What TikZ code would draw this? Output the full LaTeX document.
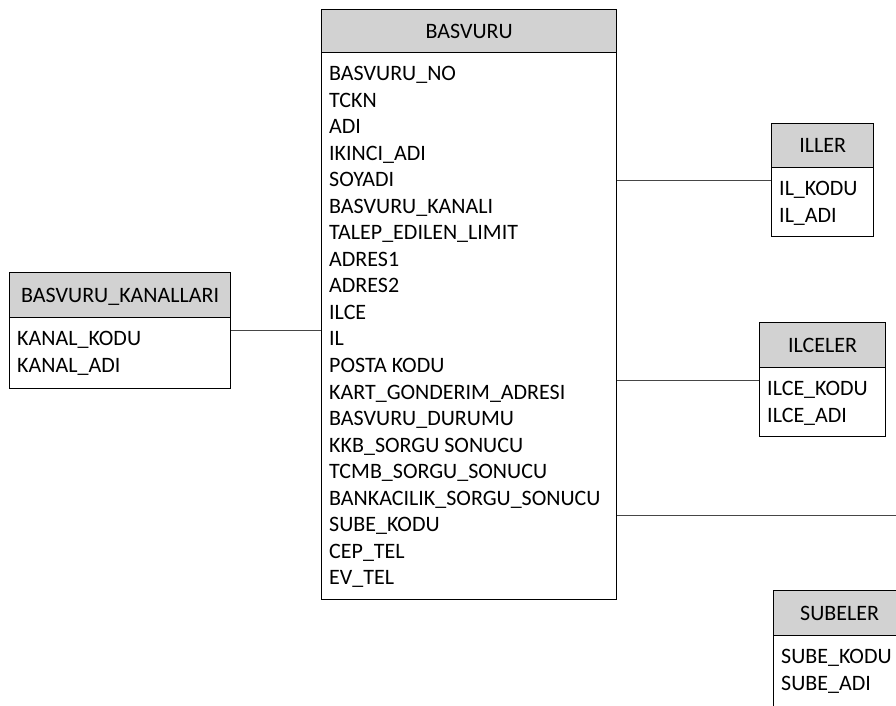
\documentclass[tikz,border=0pt]{standalone}
\usepackage{fontspec}
\setmainfont{Carlito}
\definecolor{headgray}{RGB}{210,210,210}
\definecolor{linkgray}{RGB}{70,70,70}
\begin{document}
\begin{tikzpicture}[x=1pt,y=-1pt,
  font=\fontsize{22}{26.55}\selectfont,
  tablehead/.style={draw=black, line width=1.3pt, fill=headgray, anchor=north west,
    inner sep=0pt, text height=14pt, text depth=0pt},
  tablebody/.style={draw=black, line width=1.3pt, fill=white, anchor=north west, inner sep=0pt},
  fieldlist/.style={anchor=north west, align=left, inner sep=0pt},
  link/.style={draw=linkgray, line width=1pt}]
\clip (0,0) rectangle (896,706);
\useasboundingbox (0,0) rectangle (896,706);

% main application table
\node[tablebody, minimum width=295, minimum height=547] (basvuru-body) at (321,52) {};
\node[tablehead, minimum width=295, minimum height=43] (basvuru-head) at (321,9) {BASVURU};
\node[fieldlist] (basvuru-fields) at ([xshift=8pt, yshift=-14pt]basvuru-body.north west)
  {BASVURU\_NO\\TCKN\\ADI\\IKINCI\_ADI\\SOYADI\\BASVURU\_KANALI\\TALEP\_EDILEN\_LIMIT\\
   ADRES1\\ADRES2\\ILCE\\IL\\POSTA KODU\\KART\_GONDERIM\_ADRESI\\BASVURU\_DURUMU\\
   KKB\_SORGU SONUCU\\TCMB\_SORGU\_SONUCU\\BANKACILIK\_SORGU\_SONUCU\\SUBE\_KODU\\
   CEP\_TEL\\EV\_TEL};

% channels
\node[tablebody, minimum width=221, minimum height=71] (kanal-body) at (9,317) {};
\node[tablehead, minimum width=221, minimum height=45] (kanal-head) at (9,272) {BASVURU\_KANALLARI};
\node[fieldlist] (kanal-fields) at ([xshift=8pt, yshift=-14pt]kanal-body.north west)
  {KANAL\_KODU\\KANAL\_ADI};

% provinces
\node[tablebody, minimum width=102, minimum height=69] (iller-body) at (771,167) {};
\node[tablehead, minimum width=102, minimum height=44] (iller-head) at (771,123) {ILLER};
\node[fieldlist] (iller-fields) at ([xshift=8pt, yshift=-14pt]iller-body.north west)
  {IL\_KODU\\IL\_ADI};

% districts
\node[tablebody, minimum width=126, minimum height=69] (ilceler-body) at (759,367) {};
\node[tablehead, minimum width=126, minimum height=45] (ilceler-head) at (759,322) {ILCELER};
\node[fieldlist] (ilceler-fields) at ([xshift=8pt, yshift=-14pt]ilceler-body.north west)
  {ILCE\_KODU\\ILCE\_ADI};

% branches
\node[tablebody, minimum width=132, minimum height=72] (subeler-body) at (773,635) {};
\node[tablehead, minimum width=132, minimum height=45] (subeler-head) at (773,590) {SUBELER};
\node[fieldlist] (subeler-fields) at ([xshift=8pt, yshift=-14pt]subeler-body.north west)
  {SUBE\_KODU\\SUBE\_ADI};

% relations
\draw[link] ([yshift=-13pt]iller-body.north west) coordinate (iller-port)
  -- (iller-port -| basvuru-body.east);
\draw[link] ([yshift=-13pt]ilceler-body.north west) coordinate (ilceler-port)
  -- (ilceler-port -| basvuru-body.east);
\draw[link] ([yshift=-13pt]kanal-body.north east) coordinate (kanal-port)
  -- (kanal-port -| basvuru-body.west);
\coordinate (sube-port) at (896,515);
\draw[link] (sube-port) -- (sube-port -| basvuru-body.east);
\end{tikzpicture}
\end{document}
